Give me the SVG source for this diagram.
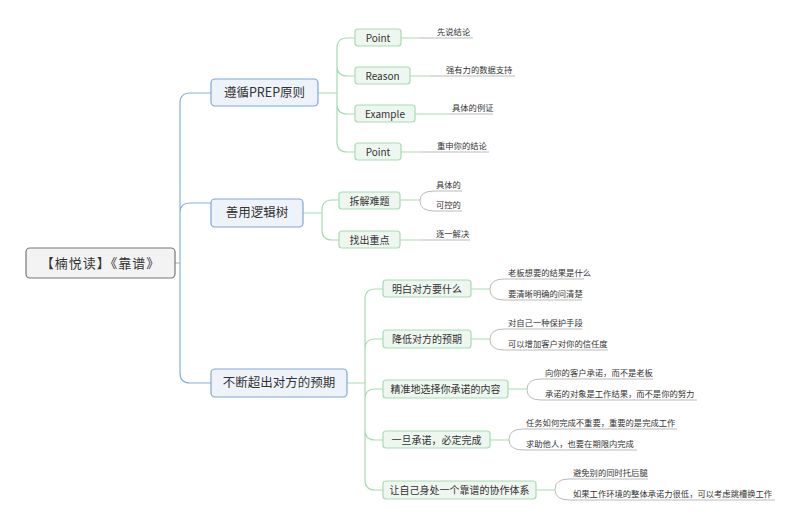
<svg xmlns="http://www.w3.org/2000/svg" width="800" height="526" viewBox="0 0 800 526">
<style>
text{font-family:"Noto Sans CJK SC","Noto Sans",sans-serif;fill:#333}
.root rect{fill:#f3f3f3;stroke:#777;stroke-width:1.2}
.l1 rect{fill:#eef3fa;stroke:#7fa7d8;stroke-width:1.2}
.l2 rect{fill:#eef7ef;stroke:#a8dbb4;stroke-width:1.2}
.l1 text{font-size:12.5px}
.l2 text{font-size:10px}
.lf{font-size:8.3px}
.cb{fill:none;stroke:#8ab0de;stroke-width:1.2}
.cg{fill:none;stroke:#a8dbb4;stroke-width:1.2}
.cl{fill:none;stroke:#bbb;stroke-width:1}
</style>
<rect width="800" height="526" fill="#fff"/>
<g id="connectors">
<path class="cb" d="M175 263H180M211 93H190Q180 93 180 103V373Q180 383 190 383H211M180 213Q180 203 190 203H211"/>
<path class="cg" d="M318 93H337M355 38H347Q337 38 337 48V142Q337 152 347 152H355M337 66Q337 76 347 76H355M337 104Q337 114 347 114H355"/>
<path class="cg" d="M303 213H322M339 200H332Q322 200 322 210V230Q322 240 332 240H339"/>
<path class="cg" d="M347 383H365M383 289H375Q365 289 365 299V480Q365 490 375 490H383M365 349Q365 339 375 339H383M365 399Q365 389 375 389H383M365 430Q365 440 375 440H383"/>
<path class="cg" d="M401 38H420M410 76H430M415 114H450M401 152H420M400 200H420M400 240H420M471 289H490M471 339H490M508 389H527M490 440H509M536 490H555"/>
<path class="cl" d="M420 38H473M430 76H515M450 114H493M420 152H489M470 240H420"/>
<path class="cl" d="M434 191H462M434 211H462M434 191Q420 191 420 201Q420 211 434 211"/>
<path class="cl" d="M504 279H584M504 300H582M504 279Q490 279 490 289.5Q490 300 504 300"/>
<path class="cl" d="M504 329H582M504 350H608M504 329Q490 329 490 339.5Q490 350 504 350"/>
<path class="cl" d="M541 379H653M541 400H697M541 379Q527 379 527 389.5Q527 400 541 400"/>
<path class="cl" d="M523 429H677M523 450H637M523 429Q509 429 509 439.5Q509 450 523 450"/>
<path class="cl" d="M569 479H648M569 500H775M569 479Q555 479 555 489.5Q555 500 569 500"/>
</g>
<g id="root" class="root"><rect x="26" y="248" width="149" height="30" rx="4"/><text x="100.5" y="268" font-size="13" text-anchor="middle" letter-spacing="1">【楠悦读】《靠谱》</text></g>
<g id="n1" class="l1"><rect x="211" y="79" width="107" height="27" rx="4"/><text x="264.5" y="97" text-anchor="middle">遵循PREP原则</text></g>
<g id="n2" class="l1"><rect x="211" y="199" width="92" height="28" rx="4"/><text x="257" y="217" text-anchor="middle">善用逻辑树</text></g>
<g id="n3" class="l1"><rect x="211" y="369" width="136" height="28" rx="4"/><text x="279" y="387" text-anchor="middle">不断超出对方的预期</text></g>
<g id="p1" class="l2"><rect x="355" y="29" width="46" height="17" rx="3"/><text x="378" y="41.5" text-anchor="middle">Point</text></g>
<g id="p2" class="l2"><rect x="355" y="67" width="55" height="17" rx="3"/><text x="382.5" y="79.5" text-anchor="middle">Reason</text></g>
<g id="p3" class="l2"><rect x="355" y="105" width="60" height="17" rx="3"/><text x="385" y="117.5" text-anchor="middle">Example</text></g>
<g id="p4" class="l2"><rect x="355" y="143" width="46" height="17" rx="3"/><text x="378" y="155.5" text-anchor="middle">Point</text></g>
<g id="t1" class="l2"><rect x="339" y="192" width="61" height="17" rx="3"/><text x="369.5" y="204.5" text-anchor="middle">拆解难题</text></g>
<g id="t2" class="l2"><rect x="339" y="231" width="61" height="17" rx="3"/><text x="369.5" y="243.5" text-anchor="middle">找出重点</text></g>
<g id="e1" class="l2"><rect x="383" y="280" width="88" height="17" rx="3"/><text x="427" y="292.5" text-anchor="middle">明白对方要什么</text></g>
<g id="e2" class="l2"><rect x="383" y="330" width="88" height="18" rx="3"/><text x="427" y="343" text-anchor="middle">降低对方的预期</text></g>
<g id="e3" class="l2"><rect x="383" y="380" width="125" height="18" rx="3"/><text x="445.5" y="393" text-anchor="middle">精准地选择你承诺的内容</text></g>
<g id="e4" class="l2"><rect x="383" y="431" width="107" height="17" rx="3"/><text x="436.5" y="443.5" text-anchor="middle">一旦承诺，必定完成</text></g>
<g id="e5" class="l2"><rect x="383" y="481" width="153" height="18" rx="3"/><text x="459.5" y="494" text-anchor="middle">让自己身处一个靠谱的协作体系</text></g>
<g id="leaves">
<text class="lf" x="437" y="35">先说结论</text>
<text class="lf" x="446" y="73">强有力的数据支持</text>
<text class="lf" x="452" y="111">具体的例证</text>
<text class="lf" x="437" y="149">重申你的结论</text>
<text class="lf" x="436" y="188">具体的</text>
<text class="lf" x="436" y="208">可控的</text>
<text class="lf" x="436" y="237">逐一解决</text>
<text class="lf" x="508" y="276">老板想要的结果是什么</text>
<text class="lf" x="508" y="297">要清晰明确的问清楚</text>
<text class="lf" x="508" y="326">对自己一种保护手段</text>
<text class="lf" x="508" y="347">可以增加客户对你的信任度</text>
<text class="lf" x="545" y="376">向你的客户承诺，而不是老板</text>
<text class="lf" x="545" y="397">承诺的对象是工作结果，而不是你的努力</text>
<text class="lf" x="526" y="426">任务如何完成不重要，重要的是完成工作</text>
<text class="lf" x="526" y="447">求助他人，也要在期限内完成</text>
<text class="lf" x="573" y="476">避免别的同时托后腿</text>
<text class="lf" x="573" y="497">如果工作环境的整体承诺力很低，可以考虑跳槽换工作</text>
</g>
</svg>
